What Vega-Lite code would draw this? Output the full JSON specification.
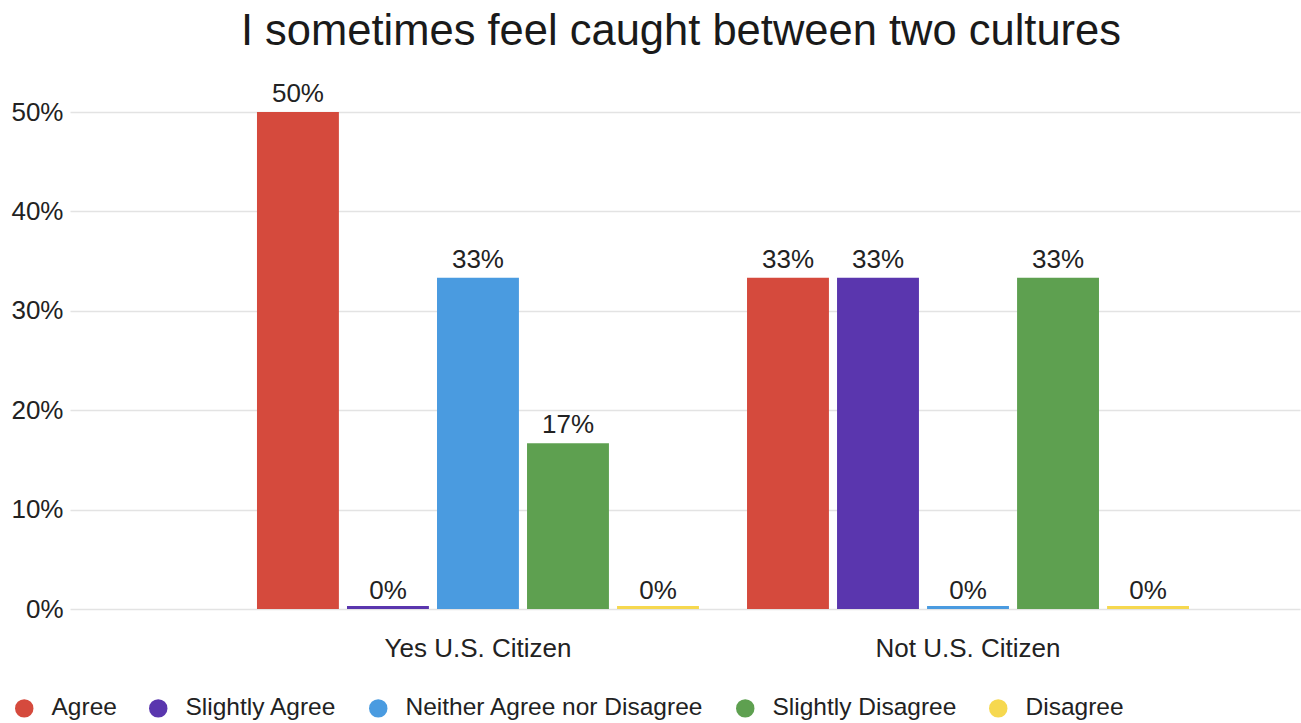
{
  "$schema": "https://vega.github.io/schema/vega-lite/v6.json",
  "width": 1230,
  "height": 497,
  "autosize": "none",
  "padding": {"left": 70, "top": 112, "right": 1, "bottom": 114},
  "title": {
    "text": "I sometimes feel caught between two cultures",
    "fontSize": 43.5,
    "fontWeight": "normal",
    "color": "#1a1a1a",
    "anchor": "middle",
    "offset": 27,
    "dx": -4
  },
  "config": {
    "font": "Liberation Sans",
    "view": {"stroke": null},
    "legend": {
      "orient": "none",
      "legendX": -58,
      "legendY": 584,
      "direction": "horizontal",
      "symbolType": "circle",
      "symbolSize": 340,
      "symbolStrokeWidth": 0,
      "labelFontSize": 24.5,
      "labelColor": "#222222",
      "labelOffset": 15,
      "labelLimit": 500,
      "columnPadding": 29,
      "title": null
    }
  },
  "data": {
    "values": [
      {"citizen": "Yes U.S. Citizen", "response": "Agree", "share": 0.5},
      {"citizen": "Yes U.S. Citizen", "response": "Slightly Agree", "share": 0},
      {"citizen": "Yes U.S. Citizen", "response": "Neither Agree nor Disagree", "share": 0.3333},
      {"citizen": "Yes U.S. Citizen", "response": "Slightly Disagree", "share": 0.1667},
      {"citizen": "Yes U.S. Citizen", "response": "Disagree", "share": 0},
      {"citizen": "Not U.S. Citizen", "response": "Agree", "share": 0.3333},
      {"citizen": "Not U.S. Citizen", "response": "Slightly Agree", "share": 0.3333},
      {"citizen": "Not U.S. Citizen", "response": "Neither Agree nor Disagree", "share": 0},
      {"citizen": "Not U.S. Citizen", "response": "Slightly Disagree", "share": 0.3333},
      {"citizen": "Not U.S. Citizen", "response": "Disagree", "share": 0}
    ]
  },
  "encoding": {
    "x": {
      "field": "citizen",
      "type": "nominal",
      "sort": ["Yes U.S. Citizen", "Not U.S. Citizen"],
      "scale": {"paddingInner": 0, "paddingOuter": 0.255, "align": 0.652},
      "axis": {
        "title": null,
        "domain": false,
        "ticks": false,
        "labelAngle": 0,
        "labelFontSize": 26,
        "labelColor": "#222222",
        "labelPadding": 26,
        "labelLimit": 500
      }
    },
    "xOffset": {
      "field": "response",
      "type": "nominal",
      "sort": ["Agree", "Slightly Agree", "Neither Agree nor Disagree", "Slightly Disagree", "Disagree"],
      "scale": {"paddingInner": 0.09, "paddingOuter": 0.267}
    },
    "y": {
      "field": "share",
      "type": "quantitative",
      "scale": {"domain": [0, 0.5], "nice": false},
      "axis": {
        "title": null,
        "format": ".0%",
        "values": [0, 0.1, 0.2, 0.3, 0.4, 0.5],
        "domain": false,
        "ticks": false,
        "labelFontSize": 26,
        "labelColor": "#222222",
        "labelPadding": 7,
        "gridColor": "#e3e3e3",
        "gridWidth": 1.5
      }
    },
    "color": {
      "field": "response",
      "type": "nominal",
      "sort": ["Agree", "Slightly Agree", "Neither Agree nor Disagree", "Slightly Disagree", "Disagree"],
      "scale": {
        "domain": ["Agree", "Slightly Agree", "Neither Agree nor Disagree", "Slightly Disagree", "Disagree"],
        "range": ["#d54a3d", "#5a36ae", "#4a9be0", "#5ea050", "#f6d84f"]
      }
    }
  },
  "layer": [
    {"mark": {"type": "bar"}},
    {
      "transform": [{"filter": "datum.share == 0"}],
      "mark": {"type": "bar"},
      "encoding": {"y2": {"datum": 0.003}}
    },
    {
      "mark": {"type": "text", "dy": -10, "baseline": "alphabetic", "fontSize": 26, "color": "#222222"},
      "encoding": {
        "text": {"field": "share", "type": "quantitative", "format": ".0%"},
        "color": {"value": "#222222"}
      }
    }
  ]
}
